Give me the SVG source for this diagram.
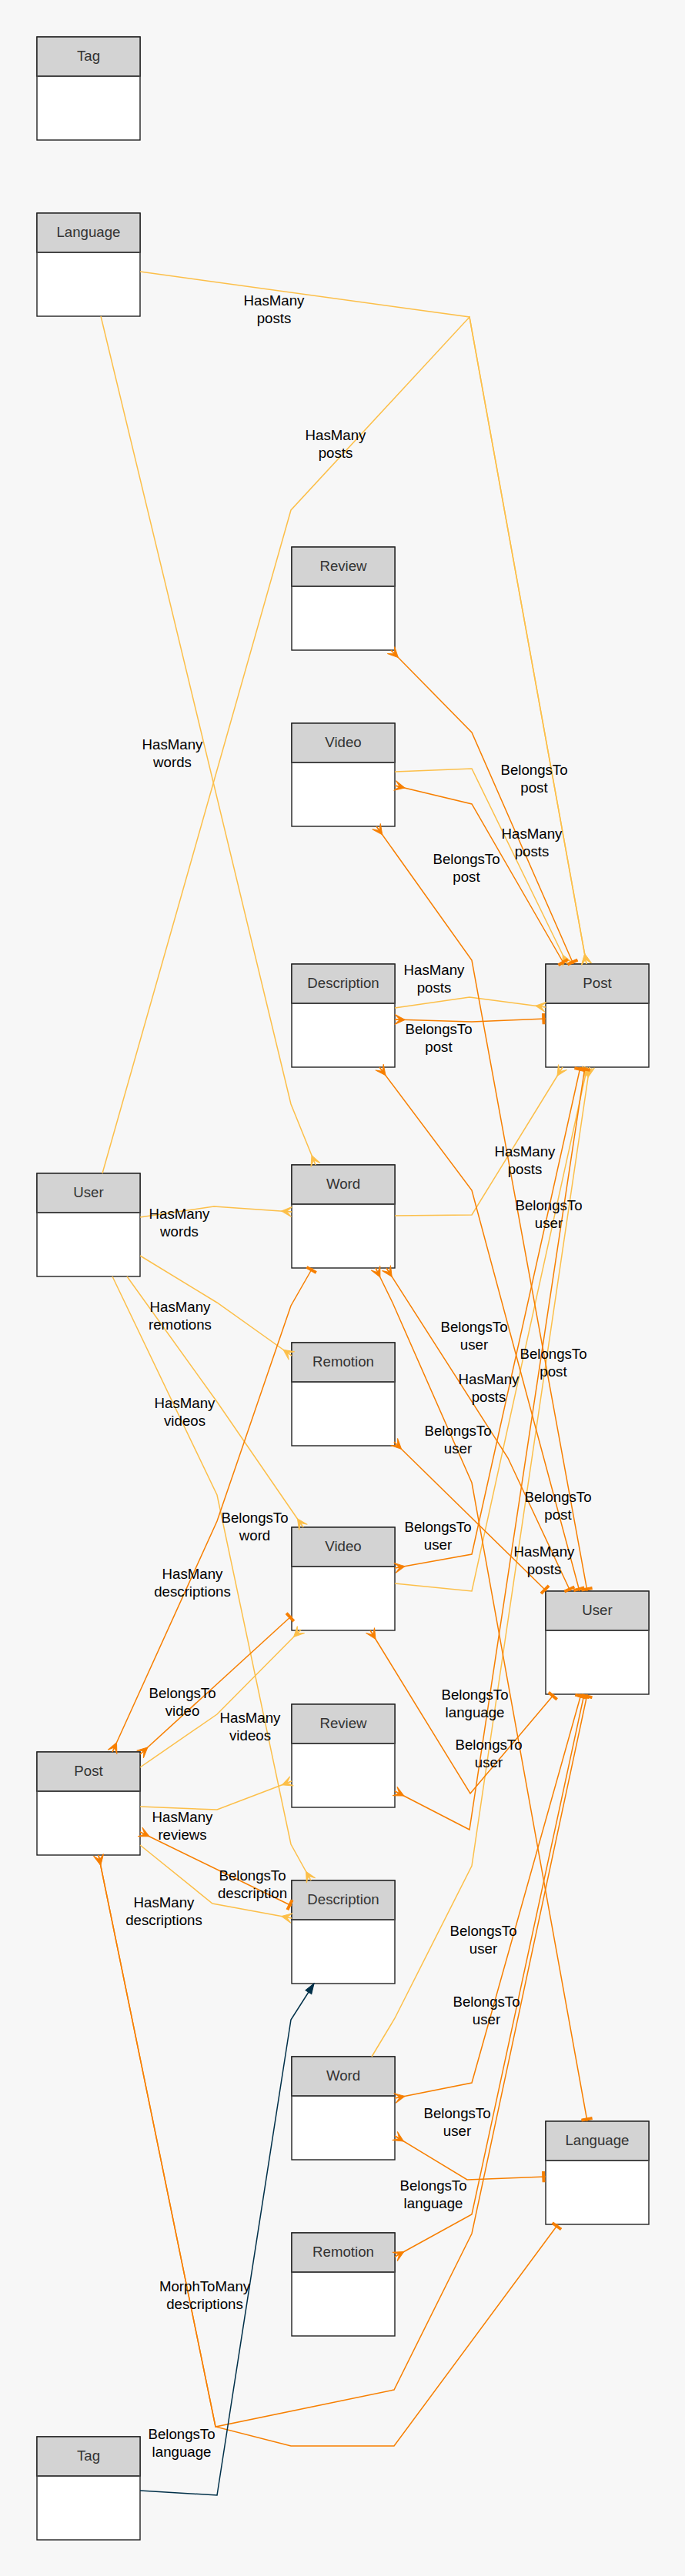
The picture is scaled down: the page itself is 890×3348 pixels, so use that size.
<svg xmlns="http://www.w3.org/2000/svg" width="890" height="3348" viewBox="0 0 890 3348">
<style>
.body{fill:#ffffff;stroke:#222;stroke-width:1.4}
.hdr{fill:#d3d3d3;stroke:#222;stroke-width:1.4}
.sep{stroke:#444;stroke-width:2}
.ttl{font-family:"Liberation Sans",Arial,Helvetica,sans-serif;font-size:18.67px;fill:#333;text-anchor:middle}
.lbl{font-family:"Liberation Sans",Arial,Helvetica,sans-serif;font-size:18.67px;fill:#000;text-anchor:middle}
.hm{fill:none;stroke:#FCBF49;stroke-width:1.5;marker-end:url(#crowL)}
.bt{fill:none;stroke:#F77F00;stroke-width:1.5;marker-start:url(#crowD);marker-end:url(#teeD)}
.mm{fill:none;stroke:#003049;stroke-width:1.5;marker-end:url(#arrN)}
</style>
<defs>
<marker id="crowL" markerUnits="userSpaceOnUse" orient="auto" overflow="visible" markerWidth="1" markerHeight="1">
<path d="M-13.3,0 L0,-6.5 L-6.65,0 L0,0 L-6.65,0 L0,6.5 Z" fill="#FCBF49" stroke="#FCBF49" stroke-width="1"/>
</marker>
<marker id="crowD" markerUnits="userSpaceOnUse" orient="auto-start-reverse" overflow="visible" markerWidth="1" markerHeight="1">
<path d="M-13.3,0 L0,-6.5 L-6.65,0 L0,0 L-6.65,0 L0,6.5 Z" fill="#F77F00" stroke="#F77F00" stroke-width="1"/>
</marker>
<marker id="teeD" markerUnits="userSpaceOnUse" orient="auto" overflow="visible" markerWidth="1" markerHeight="1">
<path d="M-1.3,-6.65 L-1.3,6.65 L-4.2,6.65 L-4.2,-6.65 Z" fill="#F77F00" stroke="#F77F00" stroke-width="1"/>
</marker>
<marker id="arrN" markerUnits="userSpaceOnUse" orient="auto" overflow="visible" markerWidth="1" markerHeight="1">
<path d="M0,0 L-13.3,-4.6 L-13.3,4.6 Z" fill="#003049" stroke="#003049" stroke-width="1"/>
</marker>
</defs>
<rect x="0" y="0" width="890" height="3348" fill="#F7F7F7"/>

<g id="n-tag1"><rect class="body" x="48" y="48" width="134" height="134"/><rect class="hdr" x="48" y="48" width="134" height="51"/><line class="sep" x1="48" y1="99" x2="182" y2="99"/><text class="ttl" x="115" y="79">Tag</text></g>
<g id="n-language1"><rect class="body" x="48" y="277" width="134" height="134"/><rect class="hdr" x="48" y="277" width="134" height="51"/><line class="sep" x1="48" y1="328" x2="182" y2="328"/><text class="ttl" x="115" y="308">Language</text></g>
<g id="n-user1"><rect class="body" x="48" y="1525" width="134" height="134"/><rect class="hdr" x="48" y="1525" width="134" height="51"/><line class="sep" x1="48" y1="1576" x2="182" y2="1576"/><text class="ttl" x="115" y="1556">User</text></g>
<g id="n-post1"><rect class="body" x="48" y="2277" width="134" height="134"/><rect class="hdr" x="48" y="2277" width="134" height="51"/><line class="sep" x1="48" y1="2328" x2="182" y2="2328"/><text class="ttl" x="115" y="2308">Post</text></g>
<g id="n-tag2"><rect class="body" x="48" y="3167" width="134" height="134"/><rect class="hdr" x="48" y="3167" width="134" height="51"/><line class="sep" x1="48" y1="3218" x2="182" y2="3218"/><text class="ttl" x="115" y="3198">Tag</text></g>

<g id="n-review1"><rect class="body" x="379" y="711" width="134" height="134"/><rect class="hdr" x="379" y="711" width="134" height="51"/><line class="sep" x1="379" y1="762" x2="513" y2="762"/><text class="ttl" x="446" y="742">Review</text></g>
<g id="n-video1"><rect class="body" x="379" y="940" width="134" height="134"/><rect class="hdr" x="379" y="940" width="134" height="51"/><line class="sep" x1="379" y1="991" x2="513" y2="991"/><text class="ttl" x="446" y="971">Video</text></g>
<g id="n-description1"><rect class="body" x="379" y="1253" width="134" height="134"/><rect class="hdr" x="379" y="1253" width="134" height="51"/><line class="sep" x1="379" y1="1304" x2="513" y2="1304"/><text class="ttl" x="446" y="1284">Description</text></g>
<g id="n-word1"><rect class="body" x="379" y="1514" width="134" height="134"/><rect class="hdr" x="379" y="1514" width="134" height="51"/><line class="sep" x1="379" y1="1565" x2="513" y2="1565"/><text class="ttl" x="446" y="1545">Word</text></g>
<g id="n-remotion1"><rect class="body" x="379" y="1745" width="134" height="134"/><rect class="hdr" x="379" y="1745" width="134" height="51"/><line class="sep" x1="379" y1="1796" x2="513" y2="1796"/><text class="ttl" x="446" y="1776">Remotion</text></g>
<g id="n-video2"><rect class="body" x="379" y="1985" width="134" height="134"/><rect class="hdr" x="379" y="1985" width="134" height="51"/><line class="sep" x1="379" y1="2036" x2="513" y2="2036"/><text class="ttl" x="446" y="2016">Video</text></g>
<g id="n-review2"><rect class="body" x="379" y="2215" width="134" height="134"/><rect class="hdr" x="379" y="2215" width="134" height="51"/><line class="sep" x1="379" y1="2266" x2="513" y2="2266"/><text class="ttl" x="446" y="2246">Review</text></g>
<g id="n-description2"><rect class="body" x="379" y="2444" width="134" height="134"/><rect class="hdr" x="379" y="2444" width="134" height="51"/><line class="sep" x1="379" y1="2495" x2="513" y2="2495"/><text class="ttl" x="446" y="2475">Description</text></g>
<g id="n-word2"><rect class="body" x="379" y="2673" width="134" height="134"/><rect class="hdr" x="379" y="2673" width="134" height="51"/><line class="sep" x1="379" y1="2724" x2="513" y2="2724"/><text class="ttl" x="446" y="2704">Word</text></g>
<g id="n-remotion2"><rect class="body" x="379" y="2902" width="134" height="134"/><rect class="hdr" x="379" y="2902" width="134" height="51"/><line class="sep" x1="379" y1="2953" x2="513" y2="2953"/><text class="ttl" x="446" y="2933">Remotion</text></g>

<g id="n-post2"><rect class="body" x="709" y="1253" width="134" height="134"/><rect class="hdr" x="709" y="1253" width="134" height="51"/><line class="sep" x1="709" y1="1304" x2="843" y2="1304"/><text class="ttl" x="776" y="1284">Post</text></g>
<g id="n-user2"><rect class="body" x="709" y="2068" width="134" height="134"/><rect class="hdr" x="709" y="2068" width="134" height="51"/><line class="sep" x1="709" y1="2119" x2="843" y2="2119"/><text class="ttl" x="776" y="2099">User</text></g>
<g id="n-language2"><rect class="body" x="709" y="2757" width="134" height="134"/><rect class="hdr" x="709" y="2757" width="134" height="51"/><line class="sep" x1="709" y1="2808" x2="843" y2="2808"/><text class="ttl" x="776" y="2788">Language</text></g>

<g id="connectors">
<path class="hm" d="M182,353 L610,412 L762,1253"/>
<path class="hm" d="M133,1525 L378,663 L610,412 L762,1253"/>
<path class="hm" d="M131,411 L378,1435 L410,1514"/>
<path class="hm" d="M182,1582 L278,1568 L379,1575"/>
<path class="hm" d="M182,1632 L282,1693 L379,1762"/>
<path class="hm" d="M165,1659 L282,1822 L394,1985"/>
<path class="hm" d="M146,1659 L282,1943 L378,2397 L404,2444"/>
<path class="hm" d="M182,2297 L282,2228 L391,2118"/>
<path class="hm" d="M182,2348 L282,2352 L379,2315"/>
<path class="hm" d="M182,2398 L276,2474 L379,2493"/>
<path class="hm" d="M513,1003 L613,999 L737,1253"/>
<path class="hm" d="M513,1310 L610,1296 L709,1309"/>
<path class="hm" d="M513,1580 L613,1579 L731,1387"/>
<path class="hm" d="M513,2058 L613,2068 L763,1387"/>
<path class="hm" d="M483,2673 L513,2623 L613,2425 L766,1387"/>

<path class="bt" d="M508,845 L613,952 L745,1253"/>
<path class="bt" d="M513,1021 L613,1045 L733,1253"/>
<path class="bt" d="M513,1325 L613,1328 L709,1324"/>
<path class="bt" d="M489,1074 L613,1248 L763,2068"/>
<path class="bt" d="M493,1387 L613,1547 L753,2068"/>
<path class="bt" d="M502,1648 L660,1895 L741,2068"/>
<path class="bt" d="M488,1648 L510,1693 L613,1927 L763,2757"/>
<path class="bt" d="M512,1874 L710,2068"/>
<path class="bt" d="M513,2038 L613,2020 L754,1387"/>
<path class="bt" d="M481,2119 L611,2331 L720,2202"/>
<path class="bt" d="M513,2328 L610,2378 L760,1387"/>
<path class="bt" d="M513,2727 L613,2707 L755,2202"/>
<path class="bt" d="M513,2776 L607,2833 L709,2829"/>
<path class="bt" d="M513,2933 L613,2878 L759,2202"/>
<path class="bt" d="M128,2411 L280,3154 L512,3106 L613,2903 L763,2202"/>
<path class="bt" d="M128,2411 L280,3154 L378,3179 L512,3179 L725,2891"/>
<path class="bt" d="M146,2277 L282,1977 L378,1697 L406,1648"/>
<path class="bt" d="M182,2280 L379,2100"/>
<path class="bt" d="M182,2381 L379,2477"/>

<path class="mm" d="M182,3237 L282,3243 L378,2625 L408,2578"/>
</g>

<g id="connector-labels">
<text class="lbl" x="356" y="397">HasMany<tspan x="356" dy="22.5">posts</tspan></text>
<text class="lbl" x="436" y="572">HasMany<tspan x="436" dy="22.5">posts</tspan></text>
<text class="lbl" x="224" y="974">HasMany<tspan x="224" dy="22.5">words</tspan></text>
<text class="lbl" x="694" y="1007">BelongsTo<tspan x="694" dy="22.5">post</tspan></text>
<text class="lbl" x="691" y="1090">HasMany<tspan x="691" dy="22.5">posts</tspan></text>
<text class="lbl" x="606" y="1123">BelongsTo<tspan x="606" dy="22.5">post</tspan></text>
<text class="lbl" x="564" y="1267">HasMany<tspan x="564" dy="22.5">posts</tspan></text>
<text class="lbl" x="570" y="1344">BelongsTo<tspan x="570" dy="22.5">post</tspan></text>
<text class="lbl" x="682" y="1503">HasMany<tspan x="682" dy="22.5">posts</tspan></text>
<text class="lbl" x="713" y="1573">BelongsTo<tspan x="713" dy="22.5">user</tspan></text>
<text class="lbl" x="233" y="1584">HasMany<tspan x="233" dy="22.5">words</tspan></text>
<text class="lbl" x="234" y="1705">HasMany<tspan x="234" dy="22.5">remotions</tspan></text>
<text class="lbl" x="616" y="1731">BelongsTo<tspan x="616" dy="22.5">user</tspan></text>
<text class="lbl" x="719" y="1766">BelongsTo<tspan x="719" dy="22.5">post</tspan></text>
<text class="lbl" x="635" y="1799">HasMany<tspan x="635" dy="22.5">posts</tspan></text>
<text class="lbl" x="240" y="1830">HasMany<tspan x="240" dy="22.5">videos</tspan></text>
<text class="lbl" x="595" y="1866">BelongsTo<tspan x="595" dy="22.5">user</tspan></text>
<text class="lbl" x="725" y="1952">BelongsTo<tspan x="725" dy="22.5">post</tspan></text>
<text class="lbl" x="331" y="1979">BelongsTo<tspan x="331" dy="22.5">word</tspan></text>
<text class="lbl" x="569" y="1991">BelongsTo<tspan x="569" dy="22.5">user</tspan></text>
<text class="lbl" x="707" y="2023">HasMany<tspan x="707" dy="22.5">posts</tspan></text>
<text class="lbl" x="250" y="2052">HasMany<tspan x="250" dy="22.5">descriptions</tspan></text>
<text class="lbl" x="237" y="2207">BelongsTo<tspan x="237" dy="22.5">video</tspan></text>
<text class="lbl" x="617" y="2209">BelongsTo<tspan x="617" dy="22.5">language</tspan></text>
<text class="lbl" x="325" y="2239">HasMany<tspan x="325" dy="22.5">videos</tspan></text>
<text class="lbl" x="635" y="2274">BelongsTo<tspan x="635" dy="22.5">user</tspan></text>
<text class="lbl" x="237" y="2368">HasMany<tspan x="237" dy="22.5">reviews</tspan></text>
<text class="lbl" x="328" y="2444">BelongsTo<tspan x="328" dy="22.5">description</tspan></text>
<text class="lbl" x="213" y="2479">HasMany<tspan x="213" dy="22.5">descriptions</tspan></text>
<text class="lbl" x="628" y="2516">BelongsTo<tspan x="628" dy="22.5">user</tspan></text>
<text class="lbl" x="632" y="2608">BelongsTo<tspan x="632" dy="22.5">user</tspan></text>
<text class="lbl" x="594" y="2753">BelongsTo<tspan x="594" dy="22.5">user</tspan></text>
<text class="lbl" x="563" y="2847">BelongsTo<tspan x="563" dy="22.5">language</tspan></text>
<text class="lbl" x="266" y="2978">MorphToMany<tspan x="266" dy="22.5">descriptions</tspan></text>
<text class="lbl" x="236" y="3170">BelongsTo<tspan x="236" dy="22.5">language</tspan></text>
</g>
</svg>
